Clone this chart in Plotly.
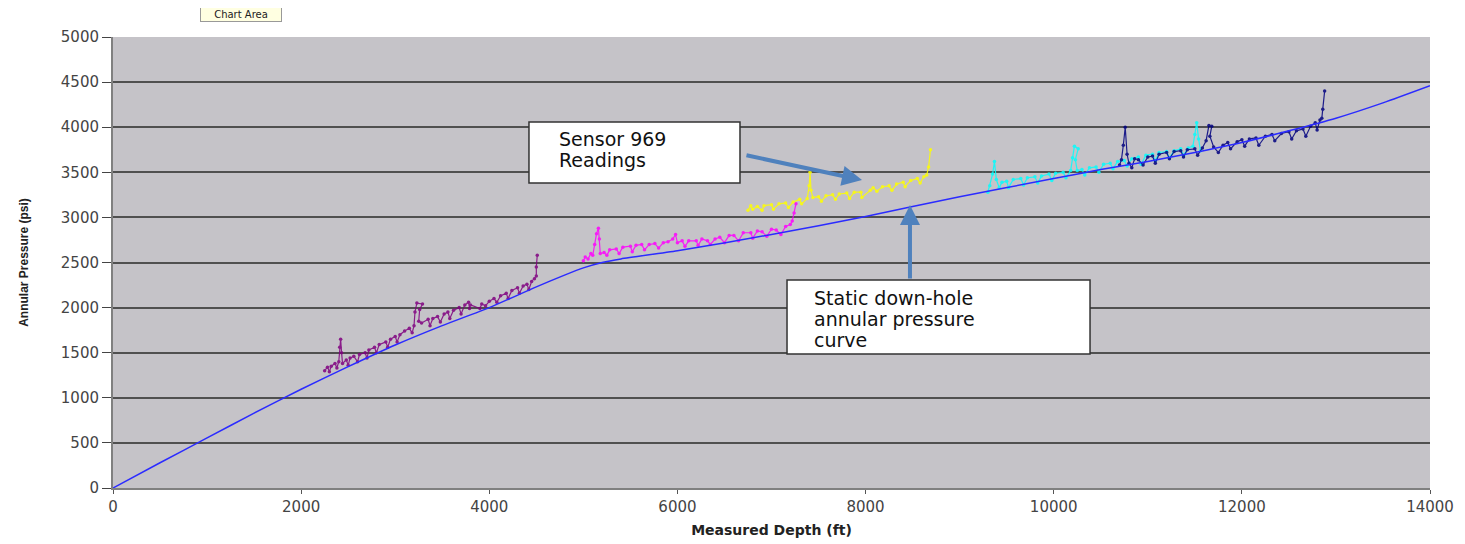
import plotly.graph_objects as go

# Static down-hole annular pressure curve
curve_depth = [0, 500, 1000, 1500, 2000, 2500, 3000, 3500, 4000, 4500, 4800, 5000, 5200, 5400,
               6000, 7000, 8000, 9000, 10000, 10500, 11000, 11500, 12000, 12500, 13000, 13500, 14000]
curve_psi = [0, 280, 555, 830, 1095, 1345, 1585, 1800, 2000, 2230, 2360, 2440, 2500, 2540,
             2630, 2810, 3010, 3230, 3430, 3530, 3620, 3720, 3830, 3960, 4100, 4270, 4460]

# Sensor 969 readings, by run
purple_depth = [2250, 2280, 2300, 2320, 2360, 2380, 2400, 2410, 2420, 2430, 2440, 2480, 2500, 2520, 2560,
                2600, 2620, 2680, 2700, 2720, 2780, 2800, 2830, 2900, 2920, 2950, 3000, 3020, 3050, 3100,
                3150, 3180, 3200, 3210, 3230, 3290, 3260, 3250, 3280, 3350, 3370, 3400, 3450, 3480, 3520,
                3560, 3580, 3620, 3680, 3700, 3740, 3780, 3790, 3800, 3900, 3920, 3960, 4000, 4050, 4080,
                4120, 4180, 4200, 4240, 4300, 4320, 4360, 4400, 4420, 4450, 4480, 4500, 4500, 4510]
purple_psi = [1300, 1340, 1290, 1350, 1380, 1330, 1400, 1560, 1650, 1500, 1380, 1420, 1360, 1440, 1460,
              1400, 1480, 1500, 1440, 1530, 1560, 1500, 1590, 1620, 1560, 1650, 1680, 1620, 1700, 1740,
              1770, 1720, 1800, 1950, 2050, 2040, 1980, 1850, 1830, 1870, 1800, 1880, 1900, 1840, 1930,
              1950, 1880, 1970, 2000, 1930, 2030, 2060, 1990, 2030, 1990, 2040, 2020, 2070, 2100, 2060,
              2130, 2160, 2100, 2190, 2220, 2160, 2240, 2260, 2200, 2290, 2320, 2350, 2450, 2580]

magenta_depth = [5000, 5020, 5050, 5080, 5100, 5120, 5140, 5160, 5170, 5180, 5220, 5250, 5280, 5350, 5380,
                 5420, 5500, 5520, 5560, 5620, 5650, 5700, 5760, 5800, 5850, 5900, 5950, 5980, 6000, 6050,
                 6080, 6120, 6200, 6220, 6260, 6320, 6350, 6400, 6450, 6500, 6550, 6600, 6650, 6700, 6780,
                 6800, 6850, 6900, 6950, 7000, 7050, 7100, 7150, 7200, 7220, 7240, 7260]
magenta_psi = [2520, 2560, 2540, 2600, 2580, 2700, 2820, 2880, 2760, 2600, 2610, 2580, 2640, 2650, 2600,
               2670, 2680, 2620, 2690, 2700, 2640, 2700, 2710, 2660, 2720, 2730, 2760, 2810, 2720, 2740,
               2680, 2740, 2740, 2690, 2760, 2740, 2700, 2760, 2780, 2720, 2800, 2800, 2740, 2830, 2830,
               2770, 2850, 2840, 2790, 2870, 2860, 2810, 2900, 2920, 2960, 3050, 3150]

yellow_depth = [6750, 6780, 6800, 6850, 6900, 6920, 7000, 7020, 7080, 7150, 7180, 7230, 7300, 7320, 7380,
                7400, 7410, 7420, 7440, 7500, 7530, 7580, 7650, 7680, 7720, 7800, 7830, 7880, 7950, 7960,
                8050, 8080, 8120, 8180, 8250, 8280, 8330, 8400, 8420, 8480, 8550, 8580, 8620, 8650, 8670, 8690]
yellow_psi = [3080, 3130, 3090, 3120, 3080, 3130, 3140, 3090, 3150, 3160, 3110, 3170, 3200, 3150, 3210,
              3350, 3500, 3300, 3220, 3230, 3180, 3240, 3250, 3200, 3260, 3270, 3210, 3280, 3280, 3220,
              3300, 3330, 3290, 3340, 3350, 3300, 3370, 3390, 3340, 3410, 3430, 3380, 3450, 3470, 3560, 3750]

cyan_depth = [9300, 9320, 9350, 9370, 9390, 9420, 9450, 9500, 9520, 9570, 9650, 9680, 9720, 9800, 9830,
              9870, 9950, 9980, 10020, 10100, 10130, 10180, 10200, 10220, 10260, 10230, 10250, 10300, 10330,
              10380, 10450, 10480, 10530, 10600, 10630, 10680, 10750, 10780, 10830, 10900, 10930, 10980,
              11050, 11080, 11120, 11200, 11230, 11280, 11350, 11380, 11430, 11480, 11500, 11520, 11540, 11560]
cyan_psi = [3280, 3350, 3480, 3620, 3420, 3330, 3390, 3400, 3330, 3420, 3430, 3360, 3440, 3450, 3380,
            3460, 3480, 3410, 3490, 3500, 3440, 3520, 3660, 3790, 3760, 3640, 3520, 3530, 3470,
            3550, 3560, 3500, 3590, 3600, 3540, 3620, 3630, 3570, 3650, 3670, 3590, 3690,
            3700, 3630, 3720, 3730, 3660, 3740, 3760, 3690, 3770, 3790, 3920, 4050, 3870, 3740]

navy_depth = [10700, 10720, 10740, 10760, 10780, 10800, 10830, 10860, 10900, 10950, 11000, 11050, 11080,
              11120, 11200, 11230, 11280, 11350, 11380, 11420, 11500, 11530, 11580, 11620, 11650, 11680,
              11660, 11700, 11750, 11800, 11850, 11880, 11950, 12000, 12030, 12080, 12150, 12180, 12250,
              12320, 12350, 12420, 12500, 12530, 12580, 12650, 12680, 12730, 12780, 12800, 12830, 12850,
              12860, 12880]
navy_psi = [3580, 3640, 3800, 4000, 3700, 3600, 3550, 3650, 3640, 3580, 3670, 3680, 3600,
            3700, 3720, 3650, 3730, 3740, 3670, 3750, 3760, 3690, 3770, 3850, 4020, 4010,
            3900, 3780, 3720, 3800, 3830, 3760, 3840, 3860, 3790, 3870, 3880, 3800, 3900,
            3920, 3850, 3930, 3950, 3870, 3960, 3980, 3900, 4010, 4050, 3970, 4080, 4100,
            4200, 4400]

x_ticks = [0, 2000, 4000, 6000, 8000, 10000, 12000, 14000]
x_tick_text = ["0", "2000", "4000", "6000", "8000", "10000", "12000", "14000"]
y_ticks = [0, 500, 1000, 1500, 2000, 2500, 3000, 3500, 4000, 4500, 5000]

ARIAL = "Arial, Liberation Sans, sans-serif"
WIDE = "DejaVu Sans, Verdana, sans-serif"

# the page draws the figure 8px in from the top-left corner
W, H = 1465, 544
ML, MR, MT, MB = 105, 43, 29, 64

fig = go.Figure()

sensor_runs = [
    (purple_depth, purple_psi, "#800080"),
    (magenta_depth, magenta_psi, "#ff00ff"),
    (yellow_depth, yellow_psi, "#ffff00"),
    (cyan_depth, cyan_psi, "#00ffff"),
    (navy_depth, navy_psi, "#000080"),
]
for d, p, c in sensor_runs:
    fig.add_trace(go.Scatter(x=d, y=p, mode="lines+markers",
                             line=dict(color=c, width=1.2),
                             marker=dict(color=c, size=3.5),
                             opacity=0.85, showlegend=False, hoverinfo="skip"))

fig.add_trace(go.Scatter(x=curve_depth, y=curve_psi, mode="lines",
                         line=dict(color="#2b2bff", width=1.5, shape="spline", smoothing=0.6),
                         showlegend=False))

box_line = dict(color="#333333", width=1.5)
fig.add_shape(type="rect", xref="x", yref="y", x0=4422, x1=6665, y0=3381, y1=4057,
              fillcolor="white", line=box_line, layer="above")
fig.add_shape(type="rect", xref="x", yref="y", x0=7165, x1=10386, y0=1486, y1=2306,
              fillcolor="white", line=box_line, layer="above")

label_lines = [
    ("Sensor 969", 4720, 3869),
    ("Readings", 4720, 3636),
    ("Static down-hole", 7431, 2106),
    ("annular pressure", 7431, 1874),
    ("curve", 7431, 1641),
]
for t, lx, ly in label_lines:
    fig.add_annotation(x=lx, y=ly, xref="x", yref="y", xanchor="left", yanchor="middle",
                       text=t, showarrow=False, font=dict(family=WIDE, size=19, color="#111111"))

# Arrows
fig.add_annotation(x=7962, y=3414, ax=6718, ay=3692, xref="x", yref="y", axref="x", ayref="y",
                   text="", showarrow=True, arrowhead=2, arrowsize=1, arrowwidth=4, arrowcolor="#4f81bd")
fig.add_annotation(x=8472, y=3137, ax=8472, ay=2306, xref="x", yref="y", axref="x", ayref="y",
                   text="", showarrow=True, arrowhead=2, arrowsize=1, arrowwidth=4, arrowcolor="#4f81bd")

# "Chart Area" tooltip
pw, ph = W - ML - MR, H - MT - MB
fig.add_annotation(x=(200 - 8 - ML) / pw, y=1 + (MT - 7) / ph, xref="paper", yref="paper", showarrow=False,
                   text="Chart Area", font=dict(family=WIDE, size=10, color="#222222"),
                   width=78, height=11, align="center",
                   bgcolor="#ffffe1", bordercolor="#999999", borderwidth=1, borderpad=1,
                   xanchor="left", yanchor="middle")

fig.update_layout(
    width=W, height=H,
    margin=dict(l=ML, r=MR, t=MT, b=MB),
    paper_bgcolor="white",
    plot_bgcolor="#c5c3c8",
    font=dict(family=WIDE, size=15, color="#444444"),
    xaxis=dict(range=[0, 14000], tickvals=x_ticks, ticktext=x_tick_text, ticks="outside", ticklen=4,
               tickcolor="#555555", showgrid=False, zeroline=False, showline=True,
               linecolor="#808080", linewidth=2,
               title=dict(text="<b>Measured Depth (ft)</b>", font=dict(family=WIDE, size=14, color="#222222"),
                          standoff=10),
               tickfont=dict(family=WIDE, size=15, color="#444444")),
    yaxis=dict(range=[0, 5000], tickvals=y_ticks, ticks="outside", ticklen=9, tickcolor="#444444",
               showgrid=True, gridcolor="#505050", gridwidth=1.5, zeroline=False,
               showline=True, linecolor="#808080", linewidth=2,
               title=dict(text="<b>Annular Pressure (psi)</b>", font=dict(family=ARIAL, size=12, color="#222222"),
                          standoff=30),
               tickfont=dict(family=WIDE, size=15, color="#444444")),
)

fig.write_html("out.html")
